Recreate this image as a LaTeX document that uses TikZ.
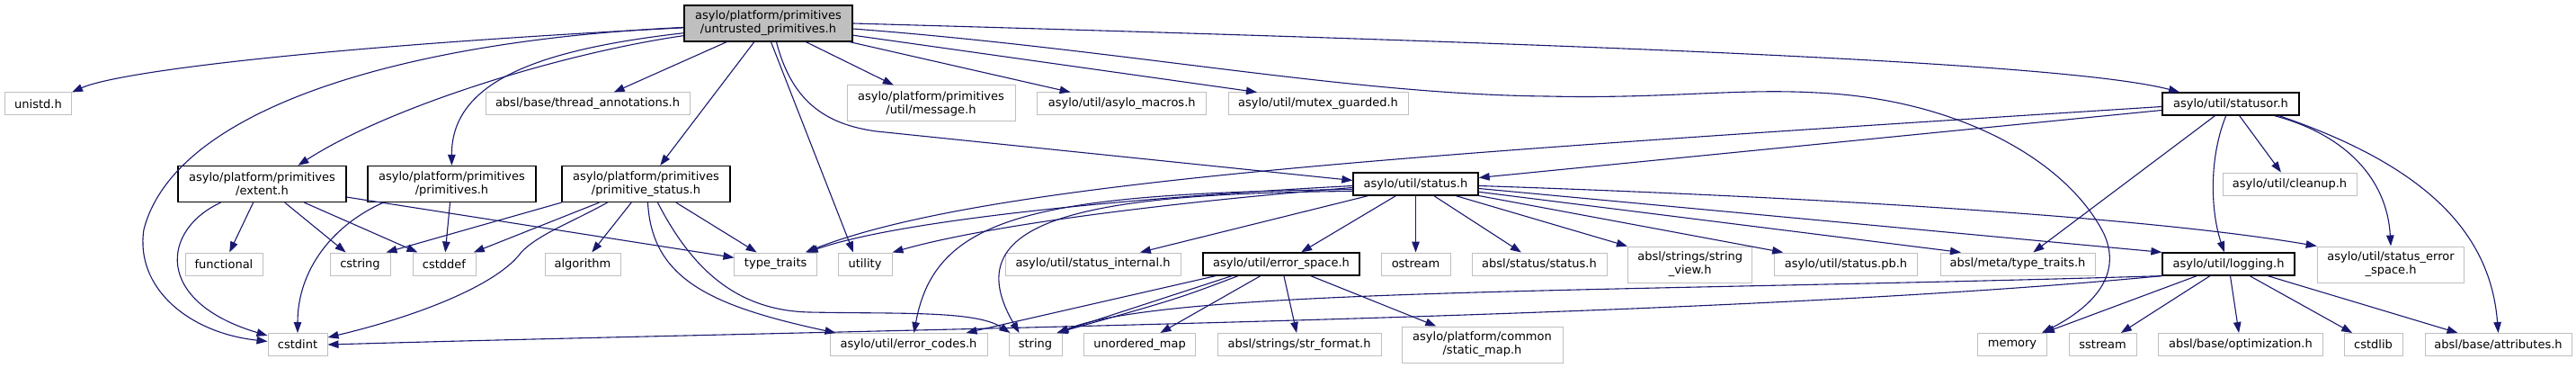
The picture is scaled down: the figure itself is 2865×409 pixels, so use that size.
\documentclass[tikz,border=0pt]{standalone}
\usepackage{fontspec}
\setmainfont{DejaVu Sans}
\usetikzlibrary{arrows.meta}
\definecolor{edgec}{HTML}{191970}
\definecolor{lgray}{HTML}{BFBFBF}
\definecolor{rootfill}{HTML}{BFBFBF}
\begin{document}
\begin{tikzpicture}[x=1pt,y=-1pt,
  nd/.style={draw=lgray, line width=1pt, fill=white, inner sep=0pt, minimum height=25pt, align=center, font=\fontsize{13}{15}\selectfont},
  dn/.style={nd, draw=black, line width=1.3pt},
  two/.style={minimum height=40pt},
  e/.style={draw=edgec, line width=1.1pt, -{Triangle[length=12pt,width=8.5pt]}}]
\useasboundingbox[fill=white] (0,0) rectangle (2865,409);
% row 0
\node[dn,two,fill=rootfill,minimum width=187pt] (root) at (854.5,26) {asylo/platform/primitives\\/untrusted\_primitives.h};
% row 1
\node[nd,minimum width=74pt] (unistd) at (42.5,115.5) {unistd.h};
\node[nd,minimum width=227pt] (thread) at (653.5,115.5) {absl/base/thread\_annotations.h};
\node[nd,two,minimum width=187pt] (message) at (1035.5,115) {asylo/platform/primitives\\/util/message.h};
\node[nd,minimum width=187.5pt] (macros) at (1247.7,115.5) {asylo/util/asylo\_macros.h};
\node[nd,minimum width=200pt] (mutex) at (1466,115.5) {asylo/util/mutex\_guarded.h};
\node[dn,minimum width=152pt] (statusor) at (2481,115.5) {asylo/util/statusor.h};
% row 2
\node[dn,two,minimum width=187pt] (extent) at (291.5,204.5) {asylo/platform/primitives\\/extent.h};
\node[dn,two,minimum width=187pt] (primh) at (502.5,204.5) {asylo/platform/primitives\\/primitives.h};
\node[dn,two,minimum width=187pt] (pstatus) at (718.5,204.5) {asylo/platform/primitives\\/primitive\_status.h};
\node[dn,minimum width=139pt] (status) at (1574.5,204.5) {asylo/util/status.h};
\node[nd,minimum width=149pt] (cleanup) at (2546.5,204.5) {asylo/util/cleanup.h};
% row 3
\node[nd,minimum width=86pt] (functional) at (249,293.5) {functional};
\node[nd,minimum width=67pt] (cstring) at (400.5,293.5) {cstring};
\node[nd,minimum width=70pt] (cstddef) at (494,293.5) {cstddef};
\node[nd,minimum width=84pt] (algorithm) at (648,293.5) {algorithm};
\node[nd,minimum width=91.5pt] (typetraits) at (862.7,293.5) {type\_traits};
\node[nd,minimum width=60pt] (utility) at (962,293.5) {utility};
\node[nd,minimum width=195pt] (sinternal) at (1215.5,293.5) {asylo/util/status\_internal.h};
\node[dn,minimum width=174pt] (errspace) at (1425,293.5) {asylo/util/error\_space.h};
\node[nd,minimum width=77pt] (ostream) at (1574.5,293.5) {ostream};
\node[nd,minimum width=150pt] (abslstatus) at (1712,293.5) {absl/status/status.h};
\node[nd,two,minimum width=138.5pt] (strview) at (1879.7,294) {absl/strings/string\\\_view.h};
\node[nd,minimum width=159.5pt] (statuspb) at (2053,293.5) {asylo/util/status.pb.h};
\node[nd,minimum width=172pt] (metatt) at (2244,293.5) {absl/meta/type\_traits.h};
\node[dn,minimum width=147pt] (logging) at (2478.5,293.5) {asylo/util/logging.h};
\node[nd,two,minimum width=163.6pt] (sesp) at (2659,294) {asylo/util/status\_error\\\_space.h};
% row 4
\node[nd,minimum width=66pt] (cstdint) at (331,383) {cstdint};
\node[nd,minimum width=175pt] (errcodes) at (1010.5,383) {asylo/util/error\_codes.h};
\node[nd,minimum width=59pt] (string) at (1151.5,383) {string};
\node[nd,minimum width=124pt] (umap) at (1267.6,383) {unordered\_map};
\node[nd,minimum width=182pt] (strformat) at (1445,383) {absl/strings/str\_format.h};
\node[nd,two,minimum width=179pt] (staticmap) at (1648.5,383) {asylo/platform/common\\/static\_map.h};
\node[nd,minimum width=77.5pt] (memory) at (2238,383) {memory};
\node[nd,minimum width=75pt] (sstream) at (2338.5,383) {sstream};
\node[nd,minimum width=183pt] (optim) at (2492,383) {absl/base/optimization.h};
\node[nd,minimum width=65pt] (cstdlib) at (2639.5,383) {cstdlib};
\node[nd,minimum width=163pt] (attributes) at (2778.5,383) {absl/base/attributes.h};

% root edges
\draw[e] (root) .. controls (350,52) and (130,80) .. (unistd.north east);
\draw[e] (root) .. controls (450,45) and (195,120) .. (160,255) .. controls (150,320) and (210,370) .. (cstdint);
\draw[e] (root) .. controls (620,60) and (430,120) .. ([xshift=40pt]extent.north);
\draw[e] (root) .. controls (600,55) and (502,90) .. (primh);
\draw[e] (root) -- (thread);
\draw[e] (root) -- (pstatus);
\draw[e] ([xshift=3pt]root.south) -- ([xshift=-13pt]utility.north);
\draw[e] ([xshift=9pt]root.south) .. controls (880,110) and (915,138) .. (975,146) -- ([yshift=4pt]status.west);
\draw[e] (root) -- (message);
\draw[e] (root) -- (macros);
\draw[e] (root) -- ([xshift=-68pt]mutex.north);
\draw[e] (root.east) .. controls (1800,50) and (2300,70) .. ([xshift=-57pt]statusor.north);
\draw[e] ([yshift=-6pt]root.east) .. controls (1250,55) and (1500,105) .. (1721,107) .. controls (1850,110) and (1930,98) .. (2020,103) .. controls (2180,110) and (2300,180) .. (2340,260) .. controls (2365,315) and (2310,350) .. ([xshift=33pt]memory.north);
% extent
\draw[e] ([xshift=-46pt]extent.south) .. controls (180,255) and (170,335) .. (cstdint);
\draw[e] (extent) -- (functional);
\draw[e] (extent) -- (cstring);
\draw[e] (extent) -- (cstddef);
\draw[e] (extent) -- (typetraits);
% primitives.h
\draw[e] ([xshift=18pt]primh.south west) .. controls (370,250) and (331,300) .. (cstdint);
\draw[e] (primh) -- (cstddef);
% primitive_status
\draw[e] (pstatus.south west) -- ([xshift=29pt]cstring.north);
\draw[e] (pstatus) -- (cstddef);
\draw[e] ([xshift=-43pt]pstatus.south) .. controls (630,250) and (600,260) .. (580,280) .. controls (555,315) and (470,350) .. (cstdint);
\draw[e] (pstatus) -- (algorithm);
\draw[e] (pstatus) -- (typetraits);
\draw[e] ([xshift=13pt]pstatus.south) .. controls (770,300) and (820,345) .. (900,347) .. controls (1000,349) and (1085,345) .. ([xshift=-28pt]string.north);
\draw[e] ([xshift=2pt]pstatus.south) .. controls (725,310) and (790,340) .. ([xshift=7pt]errcodes.north west);
% statusor
\draw[e] ([yshift=-3pt]statusor.west) .. controls (1600,170) and (1100,200) .. ([xshift=33pt]typetraits.north);
\draw[e] ([yshift=-7pt]statusor.west) -- ([yshift=7pt]status.east);
\draw[e] (statusor) -- (metatt);
\draw[e] (statusor) .. controls (2455,180) and (2460,240) .. (logging);
\draw[e] (statusor) -- (cleanup);
\draw[e] ([xshift=-28pt]statusor.south east) .. controls (2610,150) and (2655,200) .. (sesp.north);
\draw[e] ([xshift=-23pt]statusor.south east) .. controls (2700,185) and (2770,260) .. (attributes.north);
% status
\draw[e] ([yshift=-2pt]status.west) .. controls (1250,220) and (1000,245) .. ([xshift=35pt]typetraits.north);
\draw[e] ([yshift=-4pt]status.west) .. controls (1300,225) and (1100,250) .. (utility.north east);
\draw[e] ([yshift=-6pt]status.west) .. controls (1150,215) and (1040,240) .. ([xshift=6pt]errcodes.north);
\draw[e] ([yshift=-8pt]status.west) .. controls (1200,215) and (1060,245) .. ([xshift=-18pt]string.north);
\draw[e] (status) -- (sinternal);
\draw[e] (status) -- (errspace);
\draw[e] (status) -- (ostream);
\draw[e] (status) -- (abslstatus);
\draw[e] (status) -- (strview);
\draw[e] (status) -- (statuspb);
\draw[e] (status) -- ([xshift=-63pt]metatt.north);
\draw[e] ([yshift=-5pt]status.east) -- (logging.north west);
\draw[e] ([yshift=-2pt]status.east) .. controls (1900,215) and (2350,235) .. (sesp.north west);
% error_space
\draw[e] ([xshift=-73pt]errspace.south) -- ([xshift=64pt]errcodes.north);
\draw[e] ([xshift=-55pt]errspace.south) -- ([xshift=-6pt]string.north east);
\draw[e] ([xshift=-48pt]errspace.south) .. controls (1310,332) .. ([xshift=-6pt]string.north east);
\draw[e] (errspace) -- (umap);
\draw[e] (errspace) -- (strformat);
\draw[e] (errspace) -- (staticmap);
% logging
\draw[e] (logging) -- (memory);
\draw[e] (logging) -- (sstream);
\draw[e] (logging) -- (optim);
\draw[e] (logging) -- (cstdlib);
\draw[e] (logging) -- ([xshift=-45pt]attributes.north);
\draw[e] (logging.south west) .. controls (1800,325) and (1300,320) .. ([xshift=-5pt]string.north east);
\draw[e] (logging.south west) .. controls (1900,355) and (1000,365) .. (cstdint.east);
\end{tikzpicture}
\end{document}
